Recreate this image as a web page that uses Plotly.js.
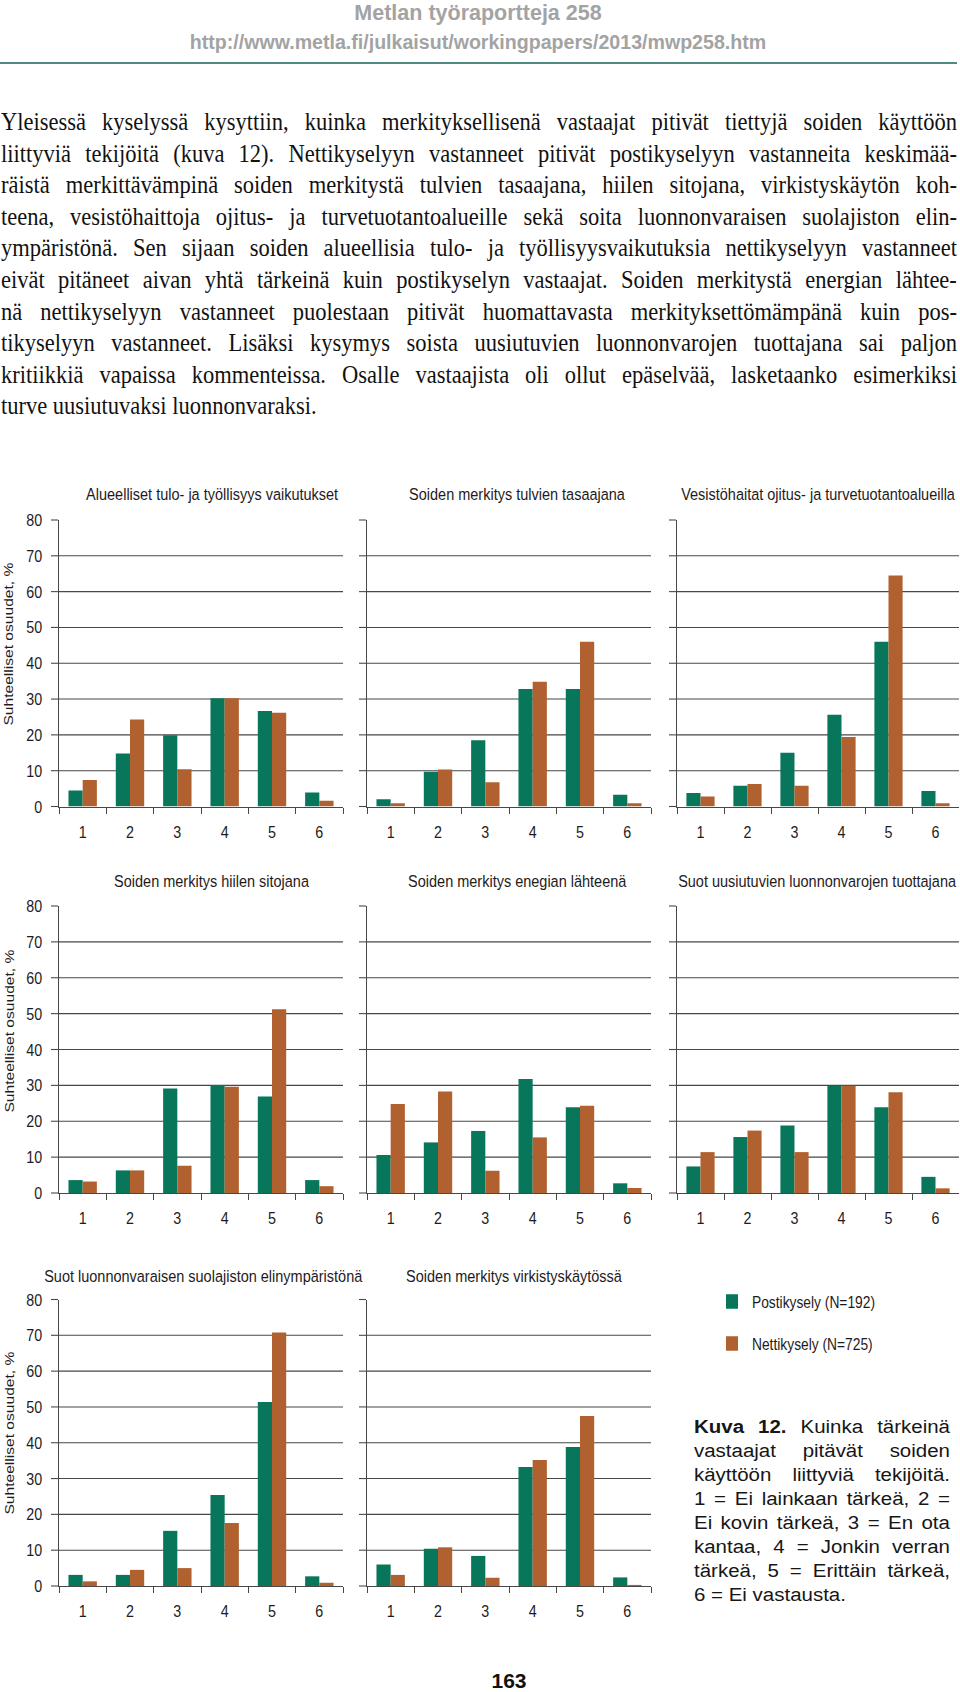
<!DOCTYPE html>
<html>
<head>
<meta charset="utf-8">
<script src="https://cdn.plot.ly/plotly-3.0.1.min.js"></script>
<style>
html,body{margin:0;padding:0;background:#fff;}
#page{position:relative;width:960px;height:1692px;overflow:hidden;background:#fff;}
#chart{position:absolute;left:0;top:0;width:960px;z-index:1;transform-origin:0 0;}
#bodytext{position:absolute;left:1px;top:106px;z-index:2;font-family:"Liberation Serif","Times New Roman",serif;font-size:25px;line-height:31.6px;color:#111;transform-origin:0 0;}
#caption{position:absolute;left:694px;top:1415px;z-index:2;font-family:"Liberation Sans",Arial,sans-serif;font-size:18.8px;line-height:24px;color:#161616;transform-origin:0 0;}
.line{display:flex;justify-content:space-between;white-space:nowrap;}
.line.last{display:block;white-space:nowrap;}
.hdr{position:absolute;left:0;width:956px;text-align:center;z-index:2;font-family:"Liberation Sans",Arial,sans-serif;font-weight:bold;color:#a3a3a3;white-space:nowrap;}
#rule{position:absolute;left:0;top:62px;width:957px;height:0;border-top:2px solid #4f8a80;z-index:2;}
#pagenum{position:absolute;left:459px;width:100px;top:1669px;text-align:center;z-index:2;font-family:"Liberation Sans",Arial,sans-serif;font-weight:bold;font-size:21px;line-height:24px;color:#111;}
.measure{position:absolute;visibility:hidden;white-space:nowrap;font-family:"Liberation Serif","Times New Roman",serif;font-size:25px;}
</style>
</head>
<body>
<div id="page">
  <div id="chart"></div>
  <div class="hdr" id="hdr1" style="top:1px;font-size:21.5px;line-height:25px;"></div>
  <div class="hdr" id="hdr2" style="top:30px;font-size:19.6px;line-height:24px;"></div>
  <div id="rule"></div>
  <div id="bodytext"></div>
  <div id="caption"></div>
  <div id="pagenum"></div>
</div>
<script>
// ---------- data ----------
const categories = ['1', '2', '3', '4', '5', '6'];
const seriesNames = ['Postikysely (N=192)', 'Nettikysely (N=725)'];

const alueellisetPosti = [4.5, 14.8, 19.9, 30.2, 26.7, 3.9];
const alueellisetNetti = [7.4, 24.3, 10.4, 30.2, 26.2, 1.6];
const tulvatPosti = [2.0, 9.7, 18.5, 32.8, 32.8, 3.3];
const tulvatNetti = [0.9, 10.3, 6.8, 34.8, 46.0, 0.9];
const vesistoPosti = [3.8, 5.8, 15.0, 25.6, 46.0, 4.3];
const vesistoNetti = [2.8, 6.3, 5.8, 19.4, 64.5, 0.9];
const hiiliPosti = [3.6, 6.3, 29.1, 30.1, 26.9, 3.6];
const hiiliNetti = [3.2, 6.3, 7.6, 29.6, 51.2, 1.9];
const energiaPosti = [10.6, 14.1, 17.3, 31.8, 23.9, 2.7];
const energiaNetti = [24.8, 28.3, 6.2, 15.5, 24.3, 1.4];
const uusiutuvaPosti = [7.4, 15.6, 18.8, 29.9, 23.9, 4.5];
const uusiutuvaNetti = [11.4, 17.4, 11.4, 29.9, 28.1, 1.3];
const suolajistoPosti = [3.1, 3.1, 15.4, 25.4, 51.4, 2.7];
const suolajistoNetti = [1.3, 4.5, 5.0, 17.6, 70.8, 0.9];
const virkistysPosti = [6.0, 10.4, 8.4, 33.2, 38.8, 2.4];
const virkistysNetti = [3.1, 10.8, 2.3, 35.2, 47.5, 0.3];

const panelTitles = [
  'Alueelliset tulo- ja työllisyys vaikutukset',
  'Soiden merkitys tulvien tasaajana',
  'Vesistöhaitat ojitus- ja turvetuotantoalueilla',
  'Soiden merkitys hiilen sitojana',
  'Soiden merkitys enegian lähteenä',
  'Suot uusiutuvien luonnonvarojen tuottajana',
  'Suot luonnonvaraisen suolajiston elinympäristönä',
  'Soiden merkitys virkistyskäytössä'
];
const yTickValues = [0, 10, 20, 30, 40, 50, 60, 70, 80];
const yAxisTitle = 'Suhteelliset osuudet, %';
const headerTitle = 'Metlan työraportteja 258';
const headerUrl = 'http://www.metla.fi/julkaisut/workingpapers/2013/mwp258.htm';
const pageNumber = '163';

const bodyLines = [
  'Yleisessä kyselyssä kysyttiin, kuinka merkityksellisenä vastaajat pitivät tiettyjä soiden käyttöön',
  'liittyviä tekijöitä (kuva 12). Nettikyselyyn vastanneet pitivät postikyselyyn vastanneita keskimää-',
  'räistä merkittävämpinä soiden merkitystä tulvien tasaajana, hiilen sitojana, virkistyskäytön koh-',
  'teena, vesistöhaittoja ojitus- ja turvetuotantoalueille sekä soita luonnonvaraisen suolajiston elin-',
  'ympäristönä. Sen sijaan soiden alueellisia tulo- ja työllisyysvaikutuksia nettikyselyyn vastanneet',
  'eivät pitäneet aivan yhtä tärkeinä kuin postikyselyn vastaajat. Soiden merkitystä energian lähtee-',
  'nä nettikyselyyn vastanneet puolestaan pitivät huomattavasta merkityksettömämpänä kuin pos-',
  'tikyselyyn vastanneet. Lisäksi kysymys soista uusiutuvien luonnonvarojen tuottajana sai paljon',
  'kritiikkiä vapaissa kommenteissa. Osalle vastaajista oli ollut epäselvää, lasketaanko esimerkiksi',
  'turve uusiutuvaksi luonnonvaraksi.'
];
const captionLines = [
  'Kuva 12. Kuinka tärkeinä',
  'vastaajat pitävät soiden',
  'käyttöön liittyviä tekijöitä.',
  '1 = Ei lainkaan tärkeä, 2 =',
  'Ei kovin tärkeä, 3 = En ota',
  'kantaa, 4 = Jonkin verran',
  'tärkeä, 5 = Erittäin tärkeä,',
  '6 = Ei vastausta.'
];

// ---------- text blocks ----------
document.getElementById('hdr1').textContent = headerTitle;
document.getElementById('hdr2').textContent = headerUrl;
document.getElementById('pagenum').textContent = pageNumber;

function buildLines(el, lines, boldWords) {
  lines.forEach((ln, i) => {
    const d = document.createElement('div');
    if (i === lines.length - 1) {
      d.className = 'line last';
      d.textContent = ln;
    } else {
      d.className = 'line';
      ln.split(' ').forEach((w, j) => {
        const s = document.createElement('span');
        s.textContent = w;
        if (i === 0 && j < boldWords) s.style.fontWeight = 'bold';
        d.appendChild(s);
      });
    }
    el.appendChild(d);
  });
}
// compress the body text horizontally so the tightest line keeps normal word spaces
const BODY_W = 956;
let bodyScale = 0.9;
bodyLines.slice(0, -1).forEach(ln => {
  const m = document.createElement('span');
  m.className = 'measure';
  m.textContent = ln;
  document.body.appendChild(m);
  const w = m.getBoundingClientRect().width;
  bodyScale = Math.min(bodyScale, BODY_W / (w + 4));
  m.remove();
});
const bodyEl = document.getElementById('bodytext');
bodyEl.style.width = (BODY_W / bodyScale) + 'px';
bodyEl.style.transform = 'scaleX(' + bodyScale + ')';
buildLines(bodyEl, bodyLines, 0);

const capScale = 1.09;
const capEl = document.getElementById('caption');
capEl.style.width = (256 / capScale) + 'px';
capEl.style.transform = 'scaleX(' + capScale + ')';
buildLines(capEl, captionLines, 2);

// ---------- chart ----------
const panels = [
  [alueellisetPosti, alueellisetNetti],
  [tulvatPosti, tulvatNetti],
  [vesistoPosti, vesistoNetti],
  [hiiliPosti, hiiliNetti],
  [energiaPosti, energiaNetti],
  [uusiutuvaPosti, uusiutuvaNetti],
  [suolajistoPosti, suolajistoNetti],
  [virkistysPosti, virkistysNetti]
];
const colors = ['#07765a', '#b0612f'];
const PW = 960, PH = 1692;
const K = 1.2;                       // vertical stretch of the figure (tall, narrow lettering)
const NH = PH / K;
const rowsPx = [[520, 806.5], [906, 1193], [1299.5, 1586]];
const colsPx = [[59, 343], [367, 651], [677, 959]];
const titlePos = [[212, 494], [517, 494], [818, 494], [212, 881], [517, 881], [817, 881], [203, 1276], [514, 1276]];
const yTitleY = [644, 1031, 1433];
const FONT = '"Liberation Sans", Arial, Helvetica, sans-serif';
const TXT = '#1f1b1c';
const AX = '#474747';

const px = v => v / PW;
const py = v => 1 - v / PH;

const chartEl = document.getElementById('chart');
chartEl.style.height = NH + 'px';
chartEl.style.transform = 'scaleY(' + K + ')';

const traces = [];
const layout = {
  width: PW, height: NH, autosize: false,
  margin: {l: 0, r: 0, t: 0, b: 0, pad: 0, autoexpand: false},
  paper_bgcolor: 'rgba(0,0,0,0)',
  plot_bgcolor: 'rgba(0,0,0,0)',
  barmode: 'group',
  bargap: 0.4,
  bargroupgap: 0,
  showlegend: true,
  legend: {
    x: px(712), y: py(1283), xanchor: 'left', yanchor: 'top',
    font: {family: FONT, size: 13.8, color: TXT},
    bgcolor: 'rgba(0,0,0,0)', tracegroupgap: 14, itemwidth: 30
  },
  annotations: []
};

panels.forEach((p, i) => {
  const k = i + 1;
  const r = Math.floor(i / 3), c = i % 3;
  const xa = 'x' + (k > 1 ? k : ''), ya = 'y' + (k > 1 ? k : '');
  p.forEach((vals, s) => {
    traces.push({
      type: 'bar', x: categories, y: vals,
      name: seriesNames[s],
      legendgroup: 'g' + s,
      showlegend: i === 0,
      marker: {color: colors[s], line: {width: 0}},
      xaxis: xa, yaxis: ya, hoverinfo: 'skip'
    });
  });
  layout['xaxis' + (k > 1 ? k : '')] = {
    domain: [px(colsPx[c][0]), px(colsPx[c][1])],
    anchor: ya, type: 'category', categoryorder: 'array', categoryarray: categories,
    tickson: 'boundaries', ticks: 'outside', ticklen: 5, tickwidth: 1, tickcolor: AX,
    showline: true, linecolor: AX, linewidth: 1, showgrid: false, zeroline: false,
    tickfont: {family: FONT, size: 14.3, color: TXT}, ticklabelstandoff: 8,
    automargin: false, fixedrange: true
  };
  layout['yaxis' + (k > 1 ? k : '')] = {
    domain: [py(rowsPx[r][1]), py(rowsPx[r][0])],
    anchor: xa, range: [0, 80], tickmode: 'array', tickvals: yTickValues,
    showgrid: true, gridcolor: AX, gridwidth: 0.9, zeroline: false,
    showline: true, linecolor: AX, linewidth: 1,
    ticks: 'outside', ticklen: 7, tickwidth: 0.9, tickcolor: AX,
    showticklabels: c === 0,
    tickfont: {family: FONT, size: 14.3, color: TXT}, ticklabelstandoff: 6,
    automargin: false, fixedrange: true
  };
  layout.annotations.push({
    text: panelTitles[i], xref: 'paper', yref: 'paper',
    x: px(titlePos[i][0]), y: py(titlePos[i][1]),
    xanchor: 'center', yanchor: 'middle', showarrow: false,
    font: {family: FONT, size: 14.5, color: TXT}
  });
});

yTitleY.forEach(yv => {
  layout.annotations.push({
    text: yAxisTitle, xref: 'paper', yref: 'paper',
    x: px(9), y: py(yv), xanchor: 'center', yanchor: 'middle',
    textangle: -90, showarrow: false,
    font: {family: FONT, size: 13, color: TXT}
  });
});

Plotly.newPlot('chart', traces, layout, {staticPlot: true, displayModeBar: false});
</script>
</body>
</html>
